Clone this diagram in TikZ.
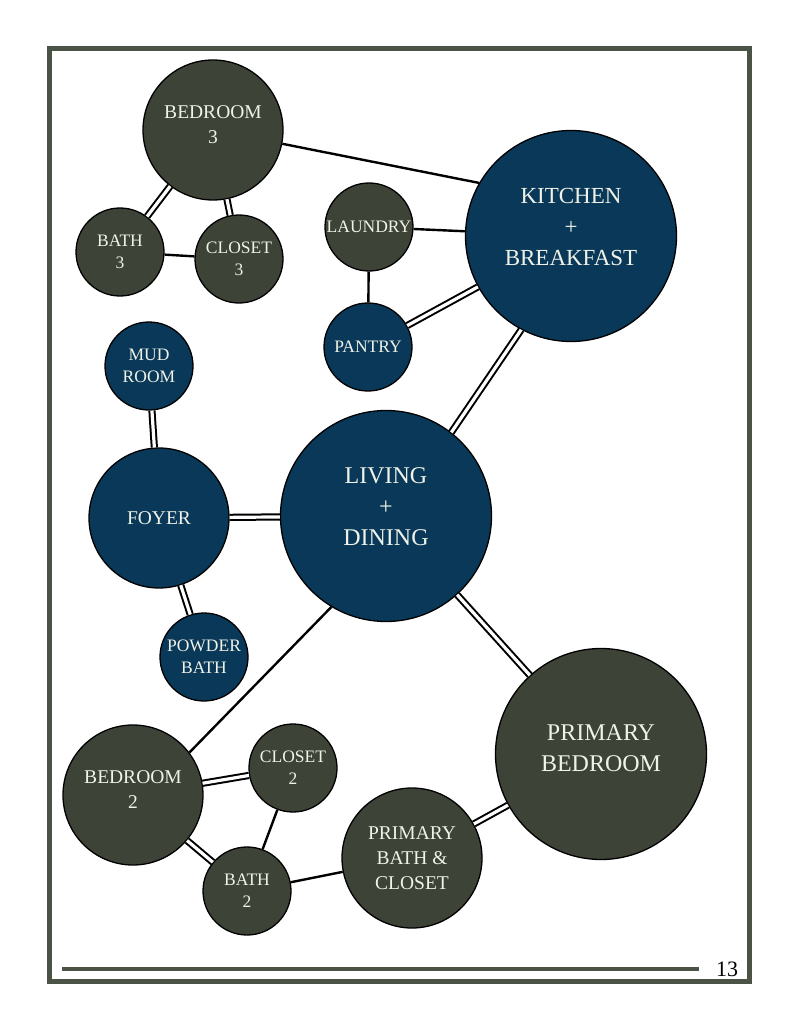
\documentclass[tikz,border=0pt]{standalone}
\usepackage{fontspec}
\setmainfont{Liberation Serif}
\usepackage{tikz}
\usetikzlibrary{positioning, calc}
\definecolor{sage}{RGB}{62,67,55}
\definecolor{navy}{RGB}{10,56,88}
\definecolor{framegreen}{RGB}{75,83,71}
\definecolor{roomtext}{RGB}{238,242,232}

\tikzset{
    room/.style={circle, draw=black, line width=1.3pt, text=roomtext, align=center, inner sep=0pt},
    greenroom/.style={room, fill=sage},
    blueroom/.style={room, fill=navy},
    roomS/.style={minimum size=88pt, font=\fontsize{17.5}{22}\selectfont},
    roomM/.style={minimum size=140pt, font=\fontsize{19.5}{25}\selectfont, text depth=10pt},
    roomL/.style={minimum size=211pt, font=\fontsize{24}{31}\selectfont, text depth=18pt},
    link/.style={line width=2.4pt},
    wall/.style={line width=2pt, double=white, double distance=3.2pt},
}

\begin{document}
\begin{tikzpicture}[x=1pt, y=-1pt]
    \useasboundingbox (0,0) rectangle (791,1024);

    % Page frame and footer
    \draw[framegreen, line width=5pt] (49,49) rectangle (749,981);
    \draw[framegreen, line width=4pt] (62,969) -- (699,969);
    \node[font=\fontsize{22}{22}\selectfont] (pagenum) at (727,969) {13};

    % Bedroom 3 wing
    \node[greenroom, roomM] (bed3) at (213,130) {BEDROOM\\3};
    \node[greenroom, roomS] (bath3) at (120,252) {BATH\\3};
    \node[greenroom, roomS] (closet3) at (239,259) {CLOSET\\3};

    % Service rooms
    \node[greenroom, roomS] (laundry) at (369,227) {LAUNDRY};
    \node[blueroom, roomS] (pantry) at (368,347) {PANTRY};
    \node[blueroom, roomL, font=\fontsize{23}{31}\selectfont] (kitchen) at (571,236) {KITCHEN\\+\\BREAKFAST};

    % Entry
    \node[blueroom, roomS] (mud) at (149,366) {MUD\\ROOM};
    \node[blueroom, roomM, text depth=0pt] (foyer) at (159,518) {FOYER};
    \node[blueroom, roomS] (powder) at (204,657) {POWDER\\BATH};
    \node[blueroom, roomL] (living) at (386,516) {LIVING\\+\\DINING};

    % Primary suite
    \node[greenroom, roomL, text depth=12pt] (primbed) at (601,754) {PRIMARY\\BEDROOM};
    \node[greenroom, roomM, text depth=0pt] (primbath) at (412,858) {PRIMARY\\BATH \&\\CLOSET};

    % Bedroom 2 wing
    \node[greenroom, roomM] (bed2) at (133,795) {BEDROOM\\2};
    \node[greenroom, roomS] (closet2) at (293,768) {CLOSET\\2};
    \node[greenroom, roomS] (bath2) at (247,891) {BATH\\2};

    % Connections
    \draw[link] (bed3) -- (kitchen.150);
    \draw[wall] (bed3) -- (bath3);
    \draw[wall] (bed3) -- (closet3);
    \draw[link] (bath3) -- (closet3);
    \draw[link] (laundry) -- (kitchen);
    \draw[link] (laundry) -- (pantry);
    \draw[wall] (pantry) -- (kitchen);
    \draw[wall] (kitchen.242) -- (living.52);
    \draw[wall] (mud) -- (foyer);
    \draw[wall] (foyer) -- (living);
    \draw[wall] (foyer) -- (powder);
    \draw[wall] (living) -- (primbed);
    \draw[link] (living.239) -- (bed2.37);
    \draw[wall] (bed2) -- (closet2);
    \draw[wall] (bed2) -- (bath2);
    \draw[link] (closet2) -- (bath2);
    \draw[link] (bath2) -- (primbath);
    \draw[wall] (primbath) -- (primbed);
\end{tikzpicture}
\end{document}
